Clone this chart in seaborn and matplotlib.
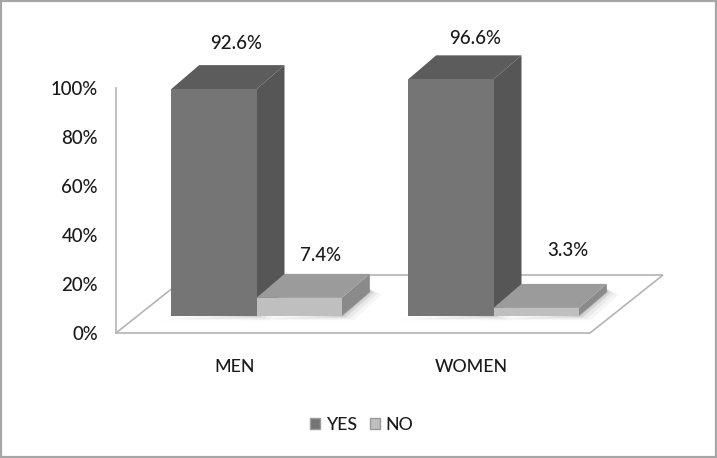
import pandas as pd
import seaborn as sns
import matplotlib.pyplot as plt
from matplotlib.patches import Polygon, Patch, Rectangle
from matplotlib.transforms import Affine2D

groups = ["MEN", "WOMEN"]
answers = ["YES", "NO"]
yes_values = [92.6, 96.6]
no_values = [7.4, 3.3]
y_ticks = [0, 20, 40, 60, 80, 100]

front_colors = {"YES": "#757575", "NO": "#bfbfbf"}
top_colors = {"YES": "#5c5c5c", "NO": "#9b9b9b"}
side_colors = {"YES": "#565656", "NO": "#8a8a8a"}

df = pd.DataFrame({
    "group": groups * 2,
    "answer": ["YES"] * 2 + ["NO"] * 2,
    "value": yes_values + no_values,
})

sns.set_theme(style="white")
plt.rcParams["font.family"] = ["Lato", "DejaVu Sans"]
plt.rcParams["font.weight"] = "medium"

W, H = 717, 458
fig = plt.figure(figsize=(W / 100, H / 100), dpi=100)
ax = fig.add_axes([116 / W, (H - 333) / H, 474 / W, 245 / H])
ax.patch.set_alpha(0)

sns.barplot(data=df, x="group", y="value", hue="answer", hue_order=answers,
            order=groups, palette=front_colors, width=0.72, gap=0, legend=False,
            saturation=1, ax=ax, zorder=5)
ax.set_xlim(-0.5, 1.5)
ax.set_ylim(0, 100)

# pixel sizes turned into data units
px_x = 2 / 474
px_y = 100 / 245

# floor of the fake 3d chart
floor = Polygon([(-0.5, 0), (1.5, 0), (1.5 + 73 * px_x, 58 * px_y), (-0.5 + 73 * px_x, 58 * px_y)],
                closed=True, facecolor="white", edgecolor="#b4b4b4", lw=1.2, clip_on=False, zorder=1)
ax.add_patch(floor)

# bars sit further back on the floor than the axis plane
shift_x = 22 * px_x
shift_y = 17 * px_y
depth_x = 28 * px_x
depth_y = 24 * px_y
shift = Affine2D().translate(shift_x, shift_y) + ax.transData

order = 5
bars = ax.patches[:4]
yes_bars, no_bars = bars[:2], bars[2:]
for i in range(2):
    for bar, answer in [(yes_bars[i], "YES"), (no_bars[i], "NO")]:
        x0, x1 = bar.get_x(), bar.get_x() + bar.get_width()
        h = bar.get_height()
        bar.set_transform(shift)
        bar.set_clip_on(False)
        bar.set_edgecolor("none")
        bar.set_zorder(order + 2)
        # soft shadow on the floor
        for grow, a in [(1, 0.22), (4, 0.14), (8, 0.08), (12, 0.05)]:
            ax.add_patch(Polygon([(x0 - grow * px_x, -grow * 0.35 * px_y), (x1 + grow * px_x, -grow * 0.35 * px_y),
                                  (x1 + depth_x + grow * px_x, depth_y - grow * 0.2 * px_y),
                                  (x1 + depth_x, depth_y + 3 * px_y), (x1, 0)],
                                 closed=True, facecolor="#606060", edgecolor="none", alpha=a,
                                 transform=shift, clip_on=False, zorder=2))
        top = Polygon([(x0, h), (x1, h), (x1 + depth_x, h + depth_y), (x0 + depth_x, h + depth_y)],
                      closed=True, facecolor=top_colors[answer], edgecolor="none",
                      transform=shift, clip_on=False, zorder=order)
        side = Polygon([(x1, 0), (x1 + depth_x, depth_y), (x1 + depth_x, h + depth_y), (x1, h)],
                       closed=True, facecolor=side_colors[answer], edgecolor="none",
                       transform=shift, clip_on=False, zorder=order + 1)
        ax.add_patch(top)
        ax.add_patch(side)
        order += 3

# value labels, offsets in pixels from the top of the bar
label_lift = [46, 41, 42, 57]
label_side = [22, 24, 21, 32]
for bar, val, lift, side_px in zip(bars, yes_values + no_values, label_lift, label_side):
    cx = bar.get_x() + bar.get_width() / 2
    ax.annotate(f"{val}%", (cx, val), xycoords=shift, xytext=(side_px * 0.72, lift * 0.72),
                textcoords="offset points", ha="center", va="center",
                fontsize=13.4, color="#1a1a1a", annotation_clip=False)

ax.set_xlabel("")
ax.set_ylabel("")
ax.set_yticks(y_ticks)
ax.set_yticklabels([f"{t}%" for t in y_ticks])
ax.tick_params(axis="y", length=0, pad=13, labelsize=13.4, labelcolor="#1a1a1a")
ax.tick_params(axis="x", length=0, pad=19, labelsize=12.8, labelcolor="#1a1a1a")
sns.despine(ax=ax, top=True, right=True, bottom=True)
ax.spines["left"].set_color("#b4b4b4")
ax.spines["left"].set_linewidth(1.2)

handles = [Patch(facecolor=front_colors[a], edgecolor="#9a9a9a", label=a) for a in answers]
fig.legend(handles=handles, ncol=2, frameon=False, loc="center",
           bbox_to_anchor=(362 / W, (H - 425) / H), fontsize=12.8, handlelength=0.55,
           handleheight=0.55, handletextpad=0.35, columnspacing=0.7, labelcolor="#1a1a1a")

# grey frame of the picture
fig.add_artist(Rectangle((0.002, 0.003), 0.996, 0.994, transform=fig.transFigure,
                         fill=False, edgecolor="#a6a6a6", lw=1.6))

fig.savefig("out.png", dpi=100)
